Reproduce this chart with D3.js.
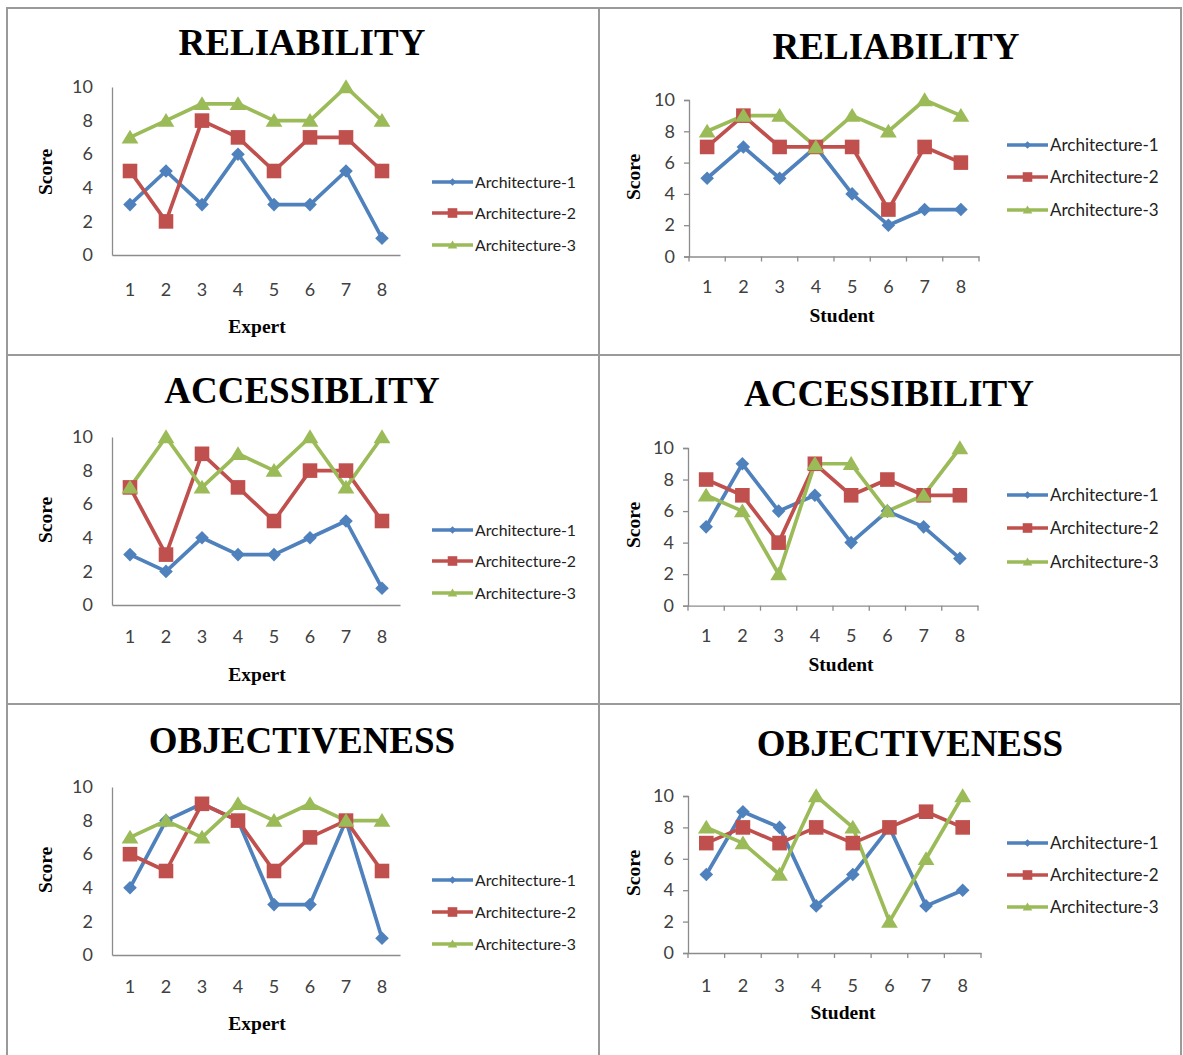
<!DOCTYPE html>
<html><head><meta charset="utf-8">
<script src="https://cdn.jsdelivr.net/npm/d3@7"></script>
<style>body{margin:0;background:#fff}svg{display:block}</style>
</head><body>
<svg id="c" width="1183" height="1055"></svg>
<script>
const categories = [1,2,3,4,5,6,7,8];
const seriesNames = ["Architecture-1","Architecture-2","Architecture-3"];
const yTicks = [0,2,4,6,8,10];
const titles = ["RELIABILITY","RELIABILITY","ACCESSIBLITY","ACCESSIBILITY","OBJECTIVENESS","OBJECTIVENESS"];
const xLabels = ["Expert","Student","Expert","Student","Expert","Student"];

const expertReliability = [[3,5,3,6,3,3,5,1],[5,2,8,7,5,7,7,5],[7,8,9,9,8,8,10,8]];
const studentReliability = [[5,7,5,7,4,2,3,3],[7,9,7,7,7,3,7,6],[8,9,9,7,9,8,10,9]];
const expertAccessibility = [[3,2,4,3,3,4,5,1],[7,3,9,7,5,8,8,5],[7,10,7,9,8,10,7,10]];
const studentAccessibility = [[5,9,6,7,4,6,5,3],[8,7,4,9,7,8,7,7],[7,6,2,9,9,6,7,10]];
const expertObjectiveness = [[4,8,9,8,3,3,8,1],[6,5,9,8,5,7,8,5],[7,8,7,9,8,9,8,8]];
const studentObjectiveness = [[5,9,8,3,5,8,3,4],[7,8,7,8,7,8,9,8],[8,7,5,10,8,2,6,10]];

const panelData = [expertReliability, studentReliability, expertAccessibility, studentAccessibility, expertObjectiveness, studentObjectiveness];

const colors = ["#4F81BD","#C0504D","#9BBB59"];
const markerShapes = ["diamond","square","triangle"];

// layout of each panel
const layout = [
  {x0:112,x1:400,yT:87, yB:255, ticks:false, tx:302, ty:55, sx:45, sy:172, lx:257, ly:333, tly:296, legX:432, legF:15.8, legY:[182,213,245]},
  {x0:689,x1:979,yT:100,yB:256.5,ticks:true, tx:896, ty:59, sx:633,sy:177, lx:842, ly:322, tly:293, legX:1007,legF:17, legY:[145,177,210]},
  {x0:112,x1:400,yT:437,yB:605, ticks:false, tx:302, ty:403,sx:45, sy:520, lx:257, ly:681, tly:643, legX:432, legF:15.8, legY:[530,561,593]},
  {x0:688,x1:978,yT:448,yB:605.7,ticks:true, tx:889, ty:406,sx:633,sy:525, lx:841, ly:671, tly:642, legX:1007,legF:17, legY:[495,528,562]},
  {x0:112,x1:400,yT:787,yB:955, ticks:false, tx:302, ty:753,sx:45, sy:870, lx:257, ly:1030,tly:993, legX:432, legF:15.8, legY:[880,912,944]},
  {x0:688,x1:981,yT:796,yB:953, ticks:true, tx:910, ty:756,sx:633,sy:873, lx:843, ly:1019,tly:992, legX:1007,legF:17, legY:[843,875,907]}
];

const svg = d3.select("#c");
const SANS = "Lato, 'Open Sans', sans-serif";
const SERIF = "'Liberation Serif','Times New Roman',serif";

// frame
const frame = svg.append("g").attr("stroke","#9a9a9a").attr("stroke-width",2).attr("fill","none");
frame.append("rect").attr("x",7).attr("y",8).attr("width",1174).attr("height",1060);
frame.append("line").attr("x1",599).attr("x2",599).attr("y1",8).attr("y2",1055);
frame.append("line").attr("x1",7).attr("x2",1181).attr("y1",355).attr("y2",355);
frame.append("line").attr("x1",7).attr("x2",1181).attr("y1",704).attr("y2",704);

function markerPath(shape, s){
  if(shape==="diamond") return `M0,${-s}L${s},0L0,${s}L${-s},0Z`;
  if(shape==="square") return `M${-s},${-s}H${s}V${s}H${-s}Z`;
  return `M0,${-s*1.05}L${s*1.15},${s*0.85}L${-s*1.15},${s*0.85}Z`;
}

panelData.forEach((data, pi) => {
  const L = layout[pi];
  const g = svg.append("g");
  const x = d3.scaleBand().domain(categories).range([L.x0, L.x1]);
  const y = d3.scaleLinear().domain([0,10]).range([L.yB, L.yT]);

  // axes
  const xAxis = d3.axisBottom(x).tickSizeOuter(0).tickSize(0).tickFormat("");
  const gx = g.append("g").attr("transform",`translate(0,${L.yB})`).call(xAxis);
  gx.select(".domain").attr("stroke","#8c8c8c").attr("stroke-width",1.3);
  if(L.ticks){
    const bounds = categories.map(c=>x(c)).concat([L.x1]);
    gx.selectAll("line.bt").data(bounds).enter().append("line").attr("class","bt")
      .attr("x1",d=>d).attr("x2",d=>d).attr("y1",0).attr("y2",5).attr("stroke","#8c8c8c").attr("stroke-width",1.3);
  }
  // x tick labels
  g.append("g").selectAll("text").data(categories).enter().append("text")
    .attr("x",d=>x(d)+x.bandwidth()/2).attr("y",L.tly)
    .attr("text-anchor","middle").attr("font-family",SANS)
    .attr("font-size",18).attr("fill","#404040").text(d=>d);

  const yAxis = d3.axisLeft(y).tickValues(yTicks).tickSize(L.ticks?5:0).tickPadding(L.ticks?9:19);
  const gy = g.append("g").attr("transform",`translate(${L.x0},0)`).call(yAxis);
  gy.select(".domain").attr("stroke","#8c8c8c").attr("stroke-width",1.3);
  gy.selectAll(".tick line").attr("stroke","#8c8c8c").attr("stroke-width",1.3);
  gy.selectAll(".tick text").attr("font-family",SANS).attr("font-size",18).attr("fill","#404040");

  // title
  g.append("text").attr("x",L.tx).attr("y",L.ty).attr("text-anchor","middle")
    .attr("font-family",SERIF).attr("font-weight","bold")
    .attr("font-size",37).attr("fill","#000").text(titles[pi]);
  // axis titles
  g.append("text").attr("transform",`translate(${L.sx},${L.sy}) rotate(-90)`).attr("text-anchor","middle")
    .attr("dy","0.35em")
    .attr("font-family",SERIF).attr("font-weight","bold")
    .attr("font-size",19.5).attr("fill","#000").text("Score");
  g.append("text").attr("x",L.lx).attr("y",L.ly).attr("text-anchor","middle")
    .attr("font-family",SERIF).attr("font-weight","bold")
    .attr("font-size",19.5).attr("fill","#000").text(xLabels[pi]);

  // series
  const line = d3.line().x((d,i)=>x(categories[i])+x.bandwidth()/2).y(d=>y(d));
  data.forEach((vals, si) => {
    g.append("path").datum(vals).attr("d",line).attr("fill","none")
      .attr("stroke",colors[si]).attr("stroke-width",3.7).attr("stroke-linejoin","round");
  });
  data.forEach((vals, si) => {
    const s = si===0?6.8:(si===1?7.3:7.3);
    g.append("g").selectAll("path").data(vals).enter().append("path")
      .attr("transform",(d,i)=>`translate(${x(categories[i])+x.bandwidth()/2},${y(d)})`)
      .attr("d",markerPath(markerShapes[si], s)).attr("fill",colors[si]);
  });

  // legend
  seriesNames.forEach((name, si) => {
    const ly = L.legY[si];
    g.append("line").attr("x1",L.legX).attr("x2",L.legX+41).attr("y1",ly).attr("y2",ly)
      .attr("stroke",colors[si]).attr("stroke-width",3.5);
    const ms = si===0?3.8:(si===1?4.8:4.2);
    g.append("path").attr("transform",`translate(${L.legX+20.5},${ly})`)
      .attr("d",markerPath(markerShapes[si], ms)).attr("fill",colors[si]);
    g.append("text").attr("x",L.legX+43).attr("y",ly).attr("dy","0.35em")
      .attr("font-family",SANS).attr("font-size",L.legF)
      .attr("fill","#222").text(name);
  });
});
</script>
</body></html>
